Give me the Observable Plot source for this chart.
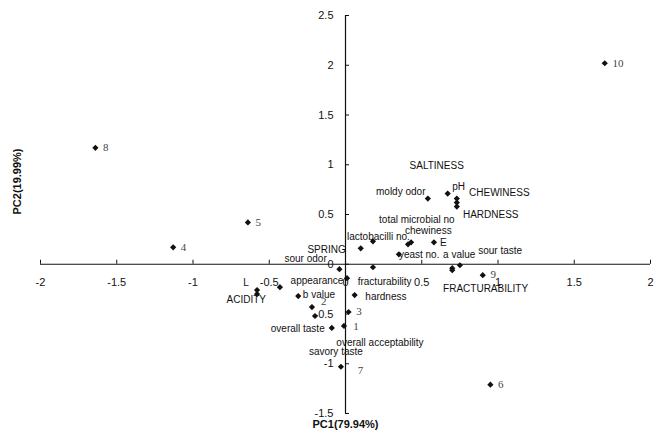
<!DOCTYPE html>
<html>
<head>
<meta charset="utf-8">
<script src="https://cdn.jsdelivr.net/npm/d3@7"></script>
<script src="https://cdn.jsdelivr.net/npm/@observablehq/plot@0.6"></script>
<style>
  html, body { margin: 0; padding: 0; background: #fff; }
  svg { display: block; }
</style>
</head>
<body>
<div id="chart"></div>
<script>
// Sample scores (numbered samples)
const scoreNames = ["1", "2", "3", "4", "5", "6", "7", "8", "9", "10"];
const scoreX = [-0.01, -0.22, 0.02, -1.13, -0.64, 0.95, -0.03, -1.64, 0.90, 1.70];
const scoreY = [-0.62, -0.43, -0.48, 0.17, 0.42, -1.21, -1.03, 1.17, -0.11, 2.02];
const scoreLabelX = [0.05, -0.16, 0.07, -1.08, -0.59, 1.00, 0.08, -1.59, 0.95, 1.75];
const scoreLabelY = [-0.63, -0.37, -0.47, 0.17, 0.42, -1.21, -1.07, 1.17, -0.10, 2.02];

// Variable loadings
const varNames = ["SALTINESS", "CHEWINESS", "HARDNESS", "moldy odor", "pH",
  "total microbial no", "chewiness", "lactobacilli no.", "E", "SPRING",
  "yeast no.", "a value", "sour taste", "FRACTURABILITY", "sour odor",
  "fracturability", "appearance", "hardness", "b value", "L", "ACIDITY",
  "overall taste", "overall acceptability", "savory taste"];
const varX = [0.73, 0.73, 0.73, 0.54, 0.67,
  0.41, 0.43, 0.18, 0.58, 0.10,
  0.35, 0.70, 0.75, 0.70, -0.04,
  0.18, 0.01, 0.06, -0.31, -0.58, -0.58,
  -0.09, -0.43, -0.20];
const varY = [0.66, 0.62, 0.58, 0.66, 0.71,
  0.20, 0.22, 0.23, 0.22, 0.16,
  0.10, -0.04, -0.01, -0.06, -0.05,
  -0.03, -0.14, -0.31, -0.32, -0.26, -0.30,
  -0.64, -0.23, -0.52];

// Variable label anchors (start of text)
const varLabels = ["SALTINESS", "CHEWINESS", "HARDNESS", "moldy odor", "pH",
  "total microbial no", "chewiness", "lactobacilli no.", "E", "SPRING",
  "yeast no.", "a value", "sour taste", "FRACTURABILITY", "sour odor",
  "fracturability", "appearance", "hardness", "b value", "L", "ACIDITY",
  "overall taste", "overall acceptability", "savory taste"];
const varLabelX = [0.42, 0.81, 0.77, 0.20, 0.70,
  0.22, 0.39, 0.01, 0.62, -0.25,
  0.35, 0.64, 0.87, 0.64, -0.40,
  0.08, -0.36, 0.13, -0.28, -0.67, -0.78,
  -0.49, -0.06, -0.24];
const varLabelY = [0.99, 0.72, 0.50, 0.73, 0.78,
  0.45, 0.34, 0.28, 0.22, 0.15,
  0.09, 0.09, 0.14, -0.25, 0.05,
  -0.18, -0.17, -0.33, -0.31, -0.19, -0.36,
  -0.65, -0.79, -0.88];

// Axes
const xTicks = [-2, -1.5, -1, -0.5, 0, 0.5, 1, 1.5, 2];
const xTickLabels = ["-2", "-1.5", "-1", "-0.5", "0", "0.5", "1", "1.5", "2"];
const yTicks = [-1.5, -1, -0.5, 0, 0.5, 1, 1.5, 2, 2.5];
const yTickLabels = ["-1.5", "-1", "-0.5", "0", "0.5", "1", "1.5", "2", "2.5"];
const xTitle = "PC1(79.94%)";
const yTitle = "PC2(19.99%)";

const scoreIdx = d3.range(scoreNames.length);
const varIdx = d3.range(varNames.length);
const xIdx = d3.range(xTicks.length);
const yIdx = d3.range(yTicks.length);

const chart = Plot.plot({
  width: 660,
  height: 435,
  marginLeft: 40,
  marginRight: 10,
  marginTop: 15,
  marginBottom: 22,
  x: {domain: [-2, 2], axis: null},
  y: {domain: [-1.5, 2.5], axis: null},
  style: {fontFamily: "Liberation Sans, Arial, sans-serif", background: "#fff", color: "#111"},
  marks: [
    Plot.ruleX([0], {stroke: "#111", strokeWidth: 1.2}),
    Plot.ruleY([0], {stroke: "#111", strokeWidth: 1.2}),
    Plot.ruleX(xTicks, {x: d => d, y1: 0, y2: 0, insetTop: -4, insetBottom: 0, stroke: "#111"}),
    Plot.ruleY(yTicks, {y: d => d, x1: 0, x2: 0, insetLeft: 0, insetRight: -4, stroke: "#111"}),
    Plot.text(xIdx, {x: i => xTicks[i], y: () => 0, text: i => xTickLabels[i], dy: 18, fontSize: 11, fill: "#111"}),
    Plot.text(yIdx, {x: () => 0, y: i => yTicks[i], text: i => yTickLabels[i], dx: -12, textAnchor: "end", fontSize: 11, fill: "#111"}),
    Plot.dot(scoreIdx, {x: i => scoreX[i], y: i => scoreY[i], symbol: "diamond2", r: 2.8, fill: "#111", stroke: "none"}),
    Plot.dot(varIdx, {x: i => varX[i], y: i => varY[i], symbol: "diamond2", r: 2.8, fill: "#111", stroke: "none"}),
    Plot.text(scoreIdx, {x: i => scoreLabelX[i], y: i => scoreLabelY[i], text: i => scoreNames[i], textAnchor: "start", fontSize: 11, fontFamily: "Liberation Serif, serif", fill: "#444"}),
    Plot.text(varIdx, {x: i => varLabelX[i], y: i => varLabelY[i], text: i => varLabels[i], textAnchor: "start", fontSize: 10, fill: "#111"}),
    Plot.text([xTitle], {frameAnchor: "bottom", dy: 14, fontSize: 11, fontWeight: "bold", fill: "#111"}),
    Plot.text([yTitle], {frameAnchor: "left", rotate: -90, dx: -23, fontSize: 11, fontWeight: "bold", fill: "#111"})
  ]
});
document.getElementById("chart").appendChild(chart);
</script>
</body>
</html>
